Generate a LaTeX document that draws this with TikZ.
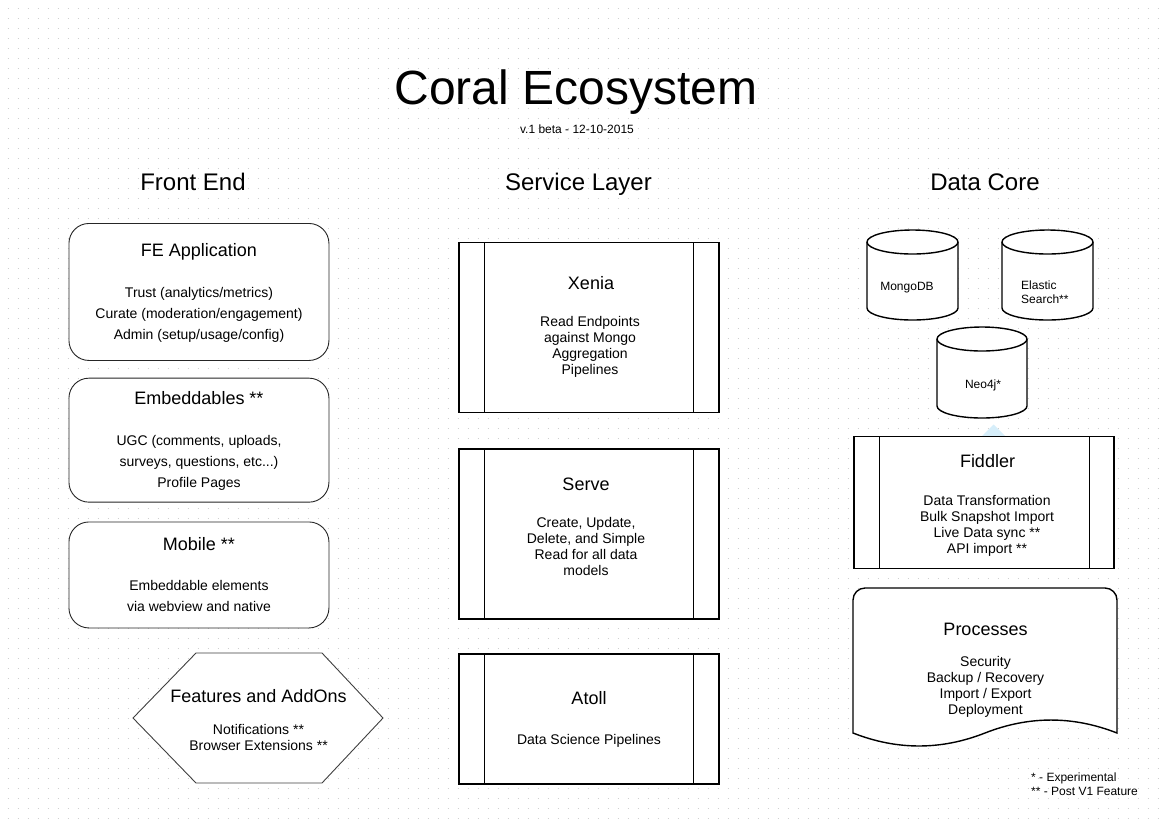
\documentclass[tikz,border=0pt]{standalone}
\usepackage{fontspec}
\setmainfont{Liberation Sans}
\usetikzlibrary{calc}
\definecolor{dotgray}{RGB}{208,208,208}
\definecolor{hintblue}{RGB}{214,238,250}
\begin{document}
\begin{tikzpicture}[x=1pt,y=-1pt,
  rbox/.style={draw=black!85, line width=0.9pt, fill=white, rounded corners=20pt, minimum width=260pt, inner sep=0pt, anchor=north west},
  pbox/.style={draw=black, line width=1.3pt, fill=white, inner sep=0pt, anchor=north west},
  pline/.style={draw=black, line width=1.3pt},
  cyl/.style={draw=black, line width=1.4pt, fill=white},
  ttl/.style={font=\fontsize{18}{22}\selectfont, anchor=base, inner sep=0pt},
  bodyA/.style={font=\fontsize{14}{21}\selectfont, anchor=base, align=center, inner sep=0pt},
  bodyB/.style={font=\fontsize{14}{16}\selectfont, anchor=base, align=center, inner sep=0pt},
  small/.style={font=\fontsize{12}{14}\selectfont, anchor=base, inner sep=0pt},
  hdr/.style={font=\fontsize{24}{28}\selectfont, anchor=base, inner sep=0pt}]
\useasboundingbox (0,0) rectangle (1167,823);
\fill[white] (0,0) rectangle (1167,823);
% dot grid
\foreach \k in {0,...,81}
  \draw[dotgray, line width=1pt, dash pattern=on 1pt off 9pt] (7.5,8+10*\k) -- (1167,8+10*\k);

% titles
\node[font=\fontsize{48}{52}\selectfont, anchor=base, inner sep=0pt] (title) at (576,104) {Coral Ecosystem};
\node[small] (sub) at (577,133.5) {v.1 beta - 12-10-2015};
\node[hdr] (hfe) at (193,190) {Front End};
\node[hdr] (hsl) at (578.5,190) {Service Layer};
\node[hdr] (hdc) at (985,190) {Data Core};

% Front end boxes
\node[rbox, minimum height=137pt] (fe) at (68.5,223) {};
\node[ttl] (fet) at (199,256.7) {FE Application};
\node[bodyA] (feb) at (199,339.5) {Trust (analytics/metrics)\\Curate (moderation/engagement)\\Admin (setup/usage/config)};

\node[rbox, minimum height=124pt] (emb) at (68.5,377.7) {};
\node[ttl] (embt) at (199,404.3) {Embeddables **};
\node[bodyA] (embb) at (199,487) {UGC (comments, uploads,\\surveys, questions, etc...)\\Profile Pages};

\node[rbox, minimum height=106pt] (mob) at (68.5,521.5) {};
\node[ttl] (mobt) at (199,550) {Mobile **};
\node[bodyA] (mobb) at (199,611) {Embeddable elements\\via webview and native};

% hexagon
\draw[draw=black!75, line width=0.9pt, fill=white] (196,653) -- (322,653) -- (383,718) -- (322,783) -- (196,783) -- (133,718) -- cycle;
\coordinate (hex) at (258,718);
\node[ttl] (hext) at (258.5,702.7) {Features and AddOns};
\node[bodyB] (hexb) at (258.5,750) {Notifications **\\Browser Extensions **};

% Service layer
\node[pbox, minimum width=260pt, minimum height=170pt] (xenia) at (458.3,242) {};
\draw[pline] ($(xenia.north west)+(26,0)$) -- ($(xenia.south west)+(26,0)$);
\draw[pline] ($(xenia.north east)+(-26,0)$) -- ($(xenia.south east)+(-26,0)$);
\node[ttl] (xeniat) at (591,289) {Xenia};
\node[bodyB] (xeniab) at (590,374.7) {Read Endpoints\\against Mongo\\ Aggregation\\Pipelines};

\node[pbox, minimum width=260pt, minimum height=170pt] (serve) at (458.3,448.3) {};
\draw[pline] ($(serve.north west)+(26,0)$) -- ($(serve.south west)+(26,0)$);
\draw[pline] ($(serve.north east)+(-26,0)$) -- ($(serve.south east)+(-26,0)$);
\node[ttl] (servet) at (586,490) {Serve};
\node[bodyB] (serveb) at (586,575.7) {Create, Update,\\Delete, and Simple\\ Read for all data\\models};

\node[pbox, minimum width=260pt, minimum height=130pt] (atoll) at (458.3,653.3) {};
\draw[pline] ($(atoll.north west)+(26,0)$) -- ($(atoll.south west)+(26,0)$);
\draw[pline] ($(atoll.north east)+(-26,0)$) -- ($(atoll.south east)+(-26,0)$);
\node[ttl] (atollt) at (589,704) {Atoll};
\node[bodyB] (atollb) at (589,744) {Data Science Pipelines};

% Data core: cylinders
% MongoDB
\path[cyl] (867,242) -- (867,308) .. controls (867,314.6) and (887.4,320) .. (912.5,320) .. controls (937.6,320) and (958,314.6) .. (958,308) -- (958,242) .. controls (958,235.4) and (937.6,230) .. (912.5,230) .. controls (887.4,230) and (867,235.4) .. (867,242) -- cycle;
\draw[cyl, fill=none] (867,242) .. controls (867,248.6) and (887.4,254) .. (912.5,254) .. controls (937.6,254) and (958,248.6) .. (958,242);
\node[small] (mongo) at (907,290) {MongoDB};
% Elastic
\path[cyl] (1002,242) -- (1002,308) .. controls (1002,314.6) and (1022.4,320) .. (1047.5,320) .. controls (1072.6,320) and (1093,314.6) .. (1093,308) -- (1093,242) .. controls (1093,235.4) and (1072.6,230) .. (1047.5,230) .. controls (1022.4,230) and (1002,235.4) .. (1002,242) -- cycle;
\draw[cyl, fill=none] (1002,242) .. controls (1002,248.6) and (1022.4,254) .. (1047.5,254) .. controls (1072.6,254) and (1093,248.6) .. (1093,242);
\node[small, align=left, anchor=base west] (elastic) at (1021,303.5) {Elastic\\Search**};
% Neo4j
\path[cyl] (937,339) -- (937,406) .. controls (937,412.6) and (957.2,418) .. (982,418) .. controls (1006.8,418) and (1027,412.6) .. (1027,406) -- (1027,339) .. controls (1027,332.4) and (1006.8,327) .. (982,327) .. controls (957.2,327) and (937,332.4) .. (937,339) -- cycle;
\draw[cyl, fill=none] (937,339) .. controls (937,345.6) and (957.2,351) .. (982,351) .. controls (1006.8,351) and (1027,345.6) .. (1027,339);
\node[small] (neo) at (983,388.3) {Neo4j*};

% blue hint
\fill[hintblue] (982,436) -- (1005,436) -- (993.5,424.5) -- cycle;

% Fiddler
\node[pbox, minimum width=260pt, minimum height=132pt] (fiddler) at (853.3,436) {};
\draw[pline] ($(fiddler.north west)+(26,0)$) -- ($(fiddler.south west)+(26,0)$);
\draw[pline] ($(fiddler.north east)+(-25,0)$) -- ($(fiddler.south east)+(-25,0)$);
\node[ttl] (fiddlert) at (987.5,467.7) {Fiddler};
\node[bodyB] (fiddlerb) at (987,553.7) {Data Transformation\\Bulk Snapshot Import\\Live Data sync **\\API import **};

% Processes document
\draw[draw=black, line width=1.4pt, fill=white, rounded corners=12pt] (853,733) -- (853,588) -- (1117,588) [sharp corners] -- (1117,733)
  .. controls (1073,715.7) and (1029,715.7) .. (985,733)
  .. controls (941,750.3) and (897,750.3) .. (853,733) -- cycle;
\coordinate (proc) at (985,660);
\node[ttl] (proct) at (985.5,635.7) {Processes};
\node[bodyB] (procb) at (985.5,714.7) {Security\\Backup / Recovery\\Import / Export\\Deployment};

% legend
\node[small, align=left, anchor=base west] (legend) at (1031,795.7) {* - Experimental\\** - Post V1 Feature};
\end{tikzpicture}
\end{document}
